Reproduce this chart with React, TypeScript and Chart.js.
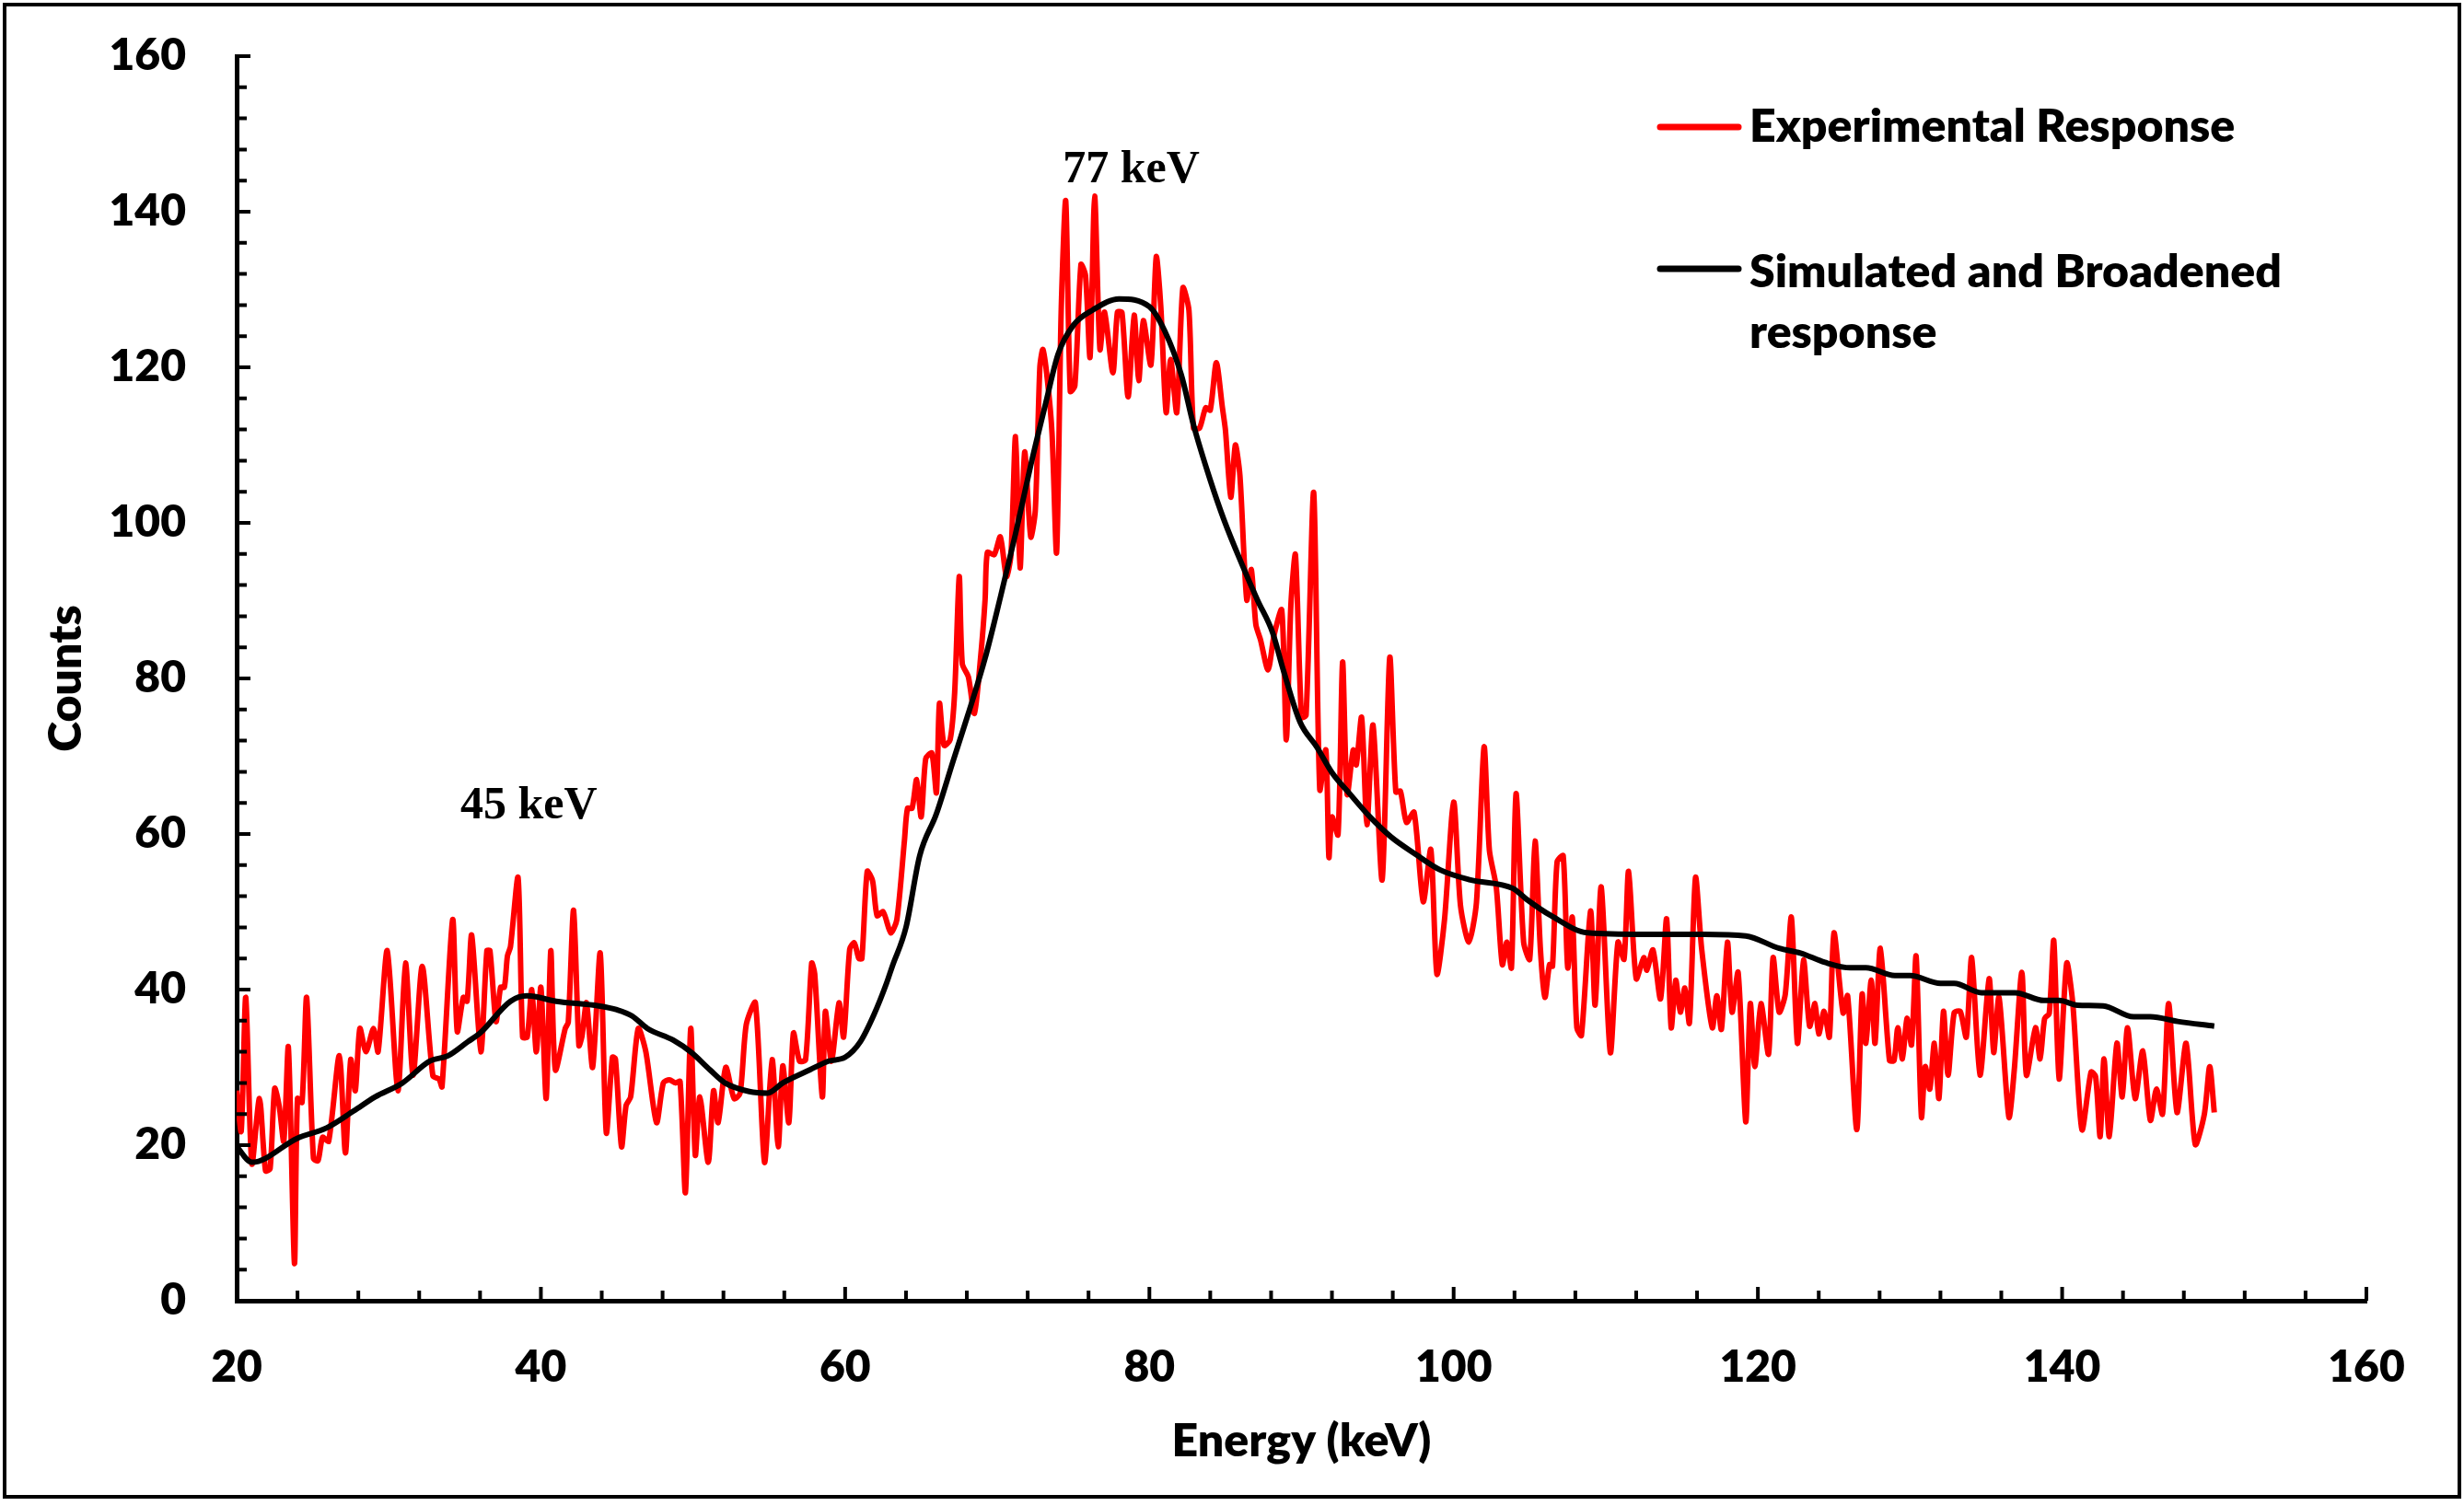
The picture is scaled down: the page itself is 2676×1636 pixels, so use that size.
import { useEffect, useRef } from "react";
import { Chart, registerables } from "chart.js";

Chart.register(...registerables);

// Experimental spectrum (keV, counts)
const expEnergy = [
  20.0, 20.3, 20.6, 21.0, 21.5, 21.9, 22.2, 22.5, 22.8, 23.1, 23.4, 23.8, 24.0, 24.3, 24.6,
  25.05, 25.35, 25.65, 26.05, 26.75, 27.15, 27.5, 27.8, 28.1, 28.5, 29.0, 29.3, 29.9, 30.6,
  31.1, 31.6, 32.2, 32.9, 33.3, 33.5, 34.2, 34.5, 34.9, 35.15, 35.45, 36.05, 36.45, 36.65,
  37.05, 37.35, 37.6, 37.8, 38.0, 38.5, 38.8, 39.1, 39.4, 39.7, 40.0, 40.35, 40.65, 40.95,
  41.6, 41.8, 42.15, 42.5, 42.7, 43.0, 43.4, 43.9, 44.3, 44.7, 44.9, 45.3, 45.6, 45.9, 46.4,
  46.9, 47.6, 48.05, 48.45, 48.85, 49.15, 49.5, 49.85, 50.15, 50.45, 51.0, 51.35, 51.65,
  52.15, 52.7, 53.1, 53.5, 54.1, 54.7, 55.2, 55.6, 55.9, 56.3, 56.6, 57.0, 57.4, 57.8, 58.0,
  58.5, 58.7, 59.1, 59.6, 59.9, 60.3, 60.6, 60.9, 61.1, 61.45, 61.8, 62.1, 62.5, 63.0, 63.4,
  63.9, 64.1, 64.4, 64.7, 65.0, 65.3, 65.7, 66.0, 66.2, 66.5, 66.9, 67.2, 67.5, 67.7, 68.1,
  68.5, 68.9, 69.2, 69.35, 69.8, 70.2, 70.6, 70.9, 71.2, 71.5, 71.8, 72.2, 72.5, 72.8, 73.0,
  73.3, 73.6, 73.9, 74.2, 74.5, 74.8, 75.1, 75.5, 75.8, 76.1, 76.4, 76.75, 77.05, 77.6, 77.9,
  78.2, 78.6, 79.0, 79.3, 79.6, 80.1, 80.45, 80.75, 81.1, 81.4, 81.8, 82.2, 82.6, 82.9, 83.3,
  83.7, 84.0, 84.4, 84.8, 85.0, 85.35, 85.65, 85.95, 86.4, 86.7, 87.0, 87.3, 87.8, 88.2, 88.7,
  89.0, 89.3, 89.6, 90.0, 90.3, 90.8, 91.2, 91.6, 91.8, 92.0, 92.4, 92.7, 93.0, 93.4, 93.6,
  93.95, 94.3, 94.7, 95.3, 95.8, 96.2, 96.5, 96.9, 97.4, 98.0, 98.5, 98.9, 99.4, 100.0,
  100.45, 101.0, 101.5, 102.0, 102.35, 102.8, 103.2, 103.5, 103.8, 104.1, 104.6, 105.0,
  105.35, 105.7, 106.0, 106.3, 106.5, 106.8, 107.2, 107.5, 107.8, 108.1, 108.4, 109.0, 109.3,
  109.7, 110.3, 110.8, 111.2, 111.5, 112.0, 112.5, 112.7, 113.1, 113.6, 114.0, 114.3, 114.6,
  114.9, 115.2, 115.5, 115.9, 116.3, 117.0, 117.3, 117.6, 118.0, 118.3, 118.7, 119.2, 119.5,
  119.8, 120.2, 120.7, 121.0, 121.4, 121.8, 122.2, 122.6, 123.0, 123.4, 123.75, 124.0,
  124.35, 124.7, 125.0, 125.6, 125.9, 126.5, 126.85, 127.1, 127.45, 127.7, 128.05, 128.65,
  128.95, 129.2, 129.5, 129.8, 130.1, 130.4, 130.75, 131.0, 131.3, 131.6, 131.9, 132.2,
  132.5, 132.9, 133.3, 133.7, 134.05, 134.6, 135.2, 135.5, 135.85, 136.5, 136.85, 137.35,
  137.65, 138.25, 138.55, 138.85, 139.15, 139.45, 139.8, 140.3, 140.7, 141.3, 141.9, 142.2,
  142.5, 142.75, 143.1, 143.6, 143.95, 144.3, 144.8, 145.3, 145.8, 146.2, 146.6, 147.0,
  147.55, 148.15, 148.75, 149.35, 149.7, 150.0,
];
const expCounts = [
  27, 21.8, 39, 17.6, 26, 16.7, 17, 27.3, 25, 20.5, 32.6, 4.8, 26, 25.5, 39,
  18.3, 18, 21, 20.5, 31.5, 19, 31, 27, 35, 32, 35, 32, 45, 27,
  43.4, 29, 43, 28.9, 28.5, 27.5, 49, 34.6, 39, 38.5, 47, 32, 45, 45,
  35.9, 40.3, 40.3, 44.3, 45.5, 54.4, 33.9, 33.9, 40, 32, 40.3, 26, 45, 29.7,
  35, 35.8, 50.2, 32.8, 34, 38.3, 30, 44.7, 21.6, 31.3, 31.1, 19.8, 25.1, 26.2, 35,
  32, 22.9, 28, 28.4, 28, 28.2, 13.9, 35, 18.7, 26.2, 17.8, 27, 22.9,
  30, 26, 26.7, 35.5, 38.3, 17.8, 31, 19.8, 30.2, 22.9, 34.4, 30.8, 31, 43.4, 42,
  26.2, 37.2, 30.8, 38.3, 33.9, 45.2, 46, 44, 44, 55.2, 54, 49.5, 50, 47.3, 49,
  59.2, 63.3, 63.3, 67, 62.2, 69.7, 70.4, 65.3, 76.8, 71.4, 72.1, 78.2, 93.1, 81.9, 80.2,
  75.5, 82.6, 90.1, 96.2, 95.9, 98.2, 93.1, 95.9, 111.1, 94.2, 109.1, 98.2, 101.6, 120, 122.3,
  118.3, 111.5, 96.2, 127.1, 141.4, 116.9, 117.6, 133.2, 131.8, 121.3, 142, 122.3, 127.1, 119.3, 127.1,
  127, 116.2, 126.7, 118.3, 126, 120.3, 134.2, 127.8, 114.2, 121, 114.2, 130.2, 127.3, 112.2, 112.2,
  114.8, 114.5, 120.6, 114.8, 111.9, 103.3, 110, 106.1, 90.1, 94, 86.9, 85, 81.1, 85.6, 88.8,
  72.1, 89.4, 95.9, 75, 75.3, 103.9, 65.7, 70.8, 57, 62.2, 59.9, 82.1, 65.1, 70.8, 68.9,
  75, 61.2, 74, 54.1, 82.7, 65.4, 65.5, 61.5, 62.8, 51.3, 58, 42, 49, 64.1,
  50.8, 46.1, 51.2, 71.2, 57.9, 53.2, 43.2, 46.1, 42.8, 65.2, 46.1, 43.9,
  59.1, 45.3, 39, 43.2, 43, 56.4, 57.2, 42.8, 49.3, 35.1, 34.1, 50.1, 38,
  53.2, 31.9, 46.1, 43.9, 55.2, 41.4, 44.1, 42.5, 45.1, 38.8, 49.1, 35.1, 41.2,
  37.1, 40.2, 35.7, 54.4, 45.3, 35.1, 39.2, 34.9, 46.1, 37.1, 42.2, 23, 38.2,
  30.1, 38.2, 31.7, 44.1, 37.1, 39.4, 49.3, 33.1, 43.8, 35.3, 38.2, 34.3,
  37.2, 33.9, 47.3, 37, 39.2, 22, 39.4, 33.1, 41.2, 33.1, 45.3, 30.9,
  30.9, 35.1, 31.1, 36.3, 32.9, 44.3, 23.6, 30.1, 27.2, 33.1, 26, 37.2,
  29, 37, 37.2, 33.9, 44.1, 29, 41.4, 31.9, 39, 23.6, 29.6, 42.2,
  29, 35.1, 31.1, 36.3, 36.9, 46.3, 28.5, 43.4, 38.2, 22, 29.4, 28.8,
  21.1, 31.1, 21.1, 33.1, 26.2, 35.1, 26, 32.1, 23.2, 27.2, 24, 38.2,
  24.2, 33.1, 20.1, 24, 30.1, 24.2,
];

// Simulated and broadened response (keV, counts)
const simEnergy = [
  20.0, 21.0, 24.0, 25.9, 27.7, 29.1, 30.9, 32.7, 33.9, 35.2, 36.0, 38.0, 39.1, 41.0, 43.8,
  45.0, 46.0, 47.0, 48.7, 49.9, 51.1, 52.1, 53.7, 54.9, 55.9, 57.7, 58.9, 60.0, 61.0, 61.9,
  62.7, 63.1, 64.0, 64.9, 66.0, 67.1, 68.1, 69.2, 70.2, 71.2, 72.2, 73.2, 74.0, 75.0, 76.3,
  78.0, 80.0, 81.0, 82.1, 82.9, 84.0, 84.9, 86.1, 87.1, 88.1, 88.8, 89.9, 91.0, 92.0, 93.2,
  94.5, 95.9, 97.5, 99.1, 101.1, 103.9, 104.8, 106.4, 108.8, 112.5, 116.5, 119.2, 121.4,
  122.8, 124.4, 126.1, 127.1, 129.0, 130.0, 132.0, 132.9, 134.7, 136.9, 138.8, 139.8, 141.0,
  142.7, 144.7, 145.8, 147.6, 150.0,
];
const simCounts = [
  19.8, 17.8, 20.9, 22.2, 24.4, 26.2, 28, 30.8, 31.5, 33.3, 34.4, 38.5, 39.2, 38.5, 37.9,
  37.4, 36.6, 35, 33.5, 31.9, 29.7, 28, 26.9, 26.7, 28, 29.7, 30.8, 31.3, 33.3, 36.8,
  40.7, 43, 48, 57.2, 62.6, 69.4, 75.5, 82.6, 90.4, 98.6, 107.4, 115.5, 121.7, 125.4, 127.4,
  128.8, 127.8, 124.7, 119, 112.6, 105.5, 100.4, 94.6, 90.1, 85.9, 81.1, 74.4, 71.2, 67.9, 65.1,
  62.2, 59.6, 57.4, 55.4, 54.1, 53, 51.6, 49.5, 47.3, 47.1, 47.1, 46.9, 45.3,
  44.7, 43.5, 42.8, 42.8, 41.8, 41.8, 40.8, 40.8, 39.6, 39.6, 38.6, 38.6, 38,
  37.9, 36.5, 36.5, 35.9, 35.3,
];

const peakText = ["45 keV", "77 keV"];
const peakTextEnergy = [39.2, 78.8];
const peakTextCounts = [63.5, 145.3];

const seriesNames = ["Experimental Response", "Simulated and Broadened", "response"];

const X_MIN = 20;
const X_MAX = 160;
const X_STEP = 20;
const X_MINOR = 4;
const Y_MIN = 0;
const Y_MAX = 160;
const Y_STEP = 20;
const Y_MINOR = 4;

const SANS = 'Lato, "Open Sans", sans-serif';
const SERIF = '"Liberation Serif", "DejaVu Serif", serif';

export default function App() {
  const canvasRef = useRef<HTMLCanvasElement | null>(null);

  useEffect(() => {
    if (!canvasRef.current) return;

    // inward tick marks on both axes
    const innerTicks = {
      id: "innerTicks",
      afterDraw: (chart: Chart) => {
        const { ctx, chartArea } = chart;
        const x = chart.scales.x;
        const y = chart.scales.y;
        ctx.save();
        ctx.strokeStyle = "#000";
        ctx.lineWidth = 4;
        ctx.beginPath();
        for (let v = X_MIN + X_MINOR; v <= X_MAX; v += X_MINOR) {
          const px = x.getPixelForValue(v);
          const len = v % X_STEP === 0 ? 15 : 11;
          ctx.moveTo(px, chartArea.bottom);
          ctx.lineTo(px, chartArea.bottom - len);
        }
        for (let v = Y_MIN + Y_MINOR; v <= Y_MAX; v += Y_MINOR) {
          const py = y.getPixelForValue(v);
          const len = v % Y_STEP === 0 ? 15 : 11;
          ctx.moveTo(chartArea.left, py);
          ctx.lineTo(chartArea.left + len, py);
        }
        ctx.stroke();
        ctx.restore();
      },
    };

    const peakLabels = {
      id: "peakLabels",
      afterDraw: (chart: Chart) => {
        const { ctx } = chart;
        const x = chart.scales.x;
        const y = chart.scales.y;
        ctx.save();
        ctx.fillStyle = "#000";
        ctx.font = `bold 50px ${SERIF}`;
        ctx.textAlign = "center";
        ctx.textBaseline = "middle";
        peakText.forEach((t, i) => {
          ctx.fillText(t, x.getPixelForValue(peakTextEnergy[i]), y.getPixelForValue(peakTextCounts[i]));
        });
        ctx.restore();
      },
    };

    const legendBox = {
      id: "legendBox",
      afterDraw: (chart: Chart) => {
        const { ctx } = chart;
        ctx.save();
        ctx.lineWidth = 7;
        ctx.lineCap = "round";
        ctx.strokeStyle = "#ff0000";
        ctx.beginPath();
        ctx.moveTo(1803, 138);
        ctx.lineTo(1888, 138);
        ctx.stroke();
        ctx.strokeStyle = "#000";
        ctx.beginPath();
        ctx.moveTo(1803, 292);
        ctx.lineTo(1888, 292);
        ctx.stroke();
        ctx.fillStyle = "#000";
        ctx.font = `800 50px ${SANS}`;
        ctx.textAlign = "left";
        ctx.textBaseline = "middle";
        ctx.fillText(seriesNames[0], 1900, 138);
        ctx.fillText(seriesNames[1], 1900, 296);
        ctx.fillText(seriesNames[2], 1900, 362);
        ctx.restore();
      },
    };

    const xTickFont = { family: SANS, size: 48, weight: "800" as const };
    // small lineHeight keeps the top label from pushing the plot area down
    const yTickFont = { family: SANS, size: 48, weight: "800" as const, lineHeight: 0.2 };
    const titleFont = { family: SANS, size: 50, weight: "800" as const };

    const chart = new Chart(canvasRef.current, {
      type: "line",
      data: {
        datasets: [
          {
            label: seriesNames[0],
            data: expEnergy.map((e, i) => ({ x: e, y: expCounts[i] })),
            borderColor: "#ff0000",
            borderWidth: 6,
            pointRadius: 0,
            tension: 0.25,
            order: 1,
          },
          {
            label: `${seriesNames[1]} ${seriesNames[2]}`,
            data: simEnergy.map((e, i) => ({ x: e, y: simCounts[i] })),
            borderColor: "#000000",
            borderWidth: 6,
            pointRadius: 0,
            cubicInterpolationMode: "monotone",
            order: 0,
          },
        ],
      },
      plugins: [innerTicks, peakLabels, legendBox],
      options: {
        animation: false,
        responsive: true,
        maintainAspectRatio: false,
        devicePixelRatio: 1,
        layout: { padding: { left: 0, top: 61, right: 106, bottom: 0 } },
        plugins: {
          legend: { display: false },
          tooltip: { enabled: false },
        },
        scales: {
          x: {
            type: "linear",
            min: X_MIN,
            max: X_MAX,
            ticks: { stepSize: X_STEP, color: "#000", font: xTickFont, padding: 44, maxRotation: 0 },
            grid: { display: false, drawTicks: false },
            border: { display: true, color: "#000", width: 5 },
            title: {
              display: true,
              text: "Energy (keV)",
              color: "#000",
              font: titleFont,
              padding: { top: 0, bottom: 40 },
            },
            afterFit: (s: any) => {
              s.height = 223;
            },
          },
          y: {
            min: Y_MIN,
            max: Y_MAX,
            ticks: { stepSize: Y_STEP, color: "#000", font: yTickFont, padding: 55 },
            grid: { display: false, drawTicks: false },
            border: { display: true, color: "#000", width: 5 },
            title: {
              display: true,
              text: "Counts",
              color: "#000",
              font: titleFont,
              padding: { top: 42, bottom: 0 },
            },
            afterFit: (s: any) => {
              s.width = 257;
            },
          },
        },
      } as any,
    });

    return () => {
      chart.destroy();
    };
  }, []);

  return (
    <div style={{ position: "absolute", left: 0, top: 0, width: 2676, height: 1636, background: "#fff" }}>
      <div
        style={{
          position: "absolute",
          left: 3,
          top: 3,
          width: 2670,
          height: 1625,
          border: "4px solid #000",
          boxSizing: "border-box",
        }}
      />
      <div style={{ position: "absolute", left: 0, top: 0, width: 2676, height: 1636 }}>
        <canvas ref={canvasRef} />
      </div>
    </div>
  );
}
